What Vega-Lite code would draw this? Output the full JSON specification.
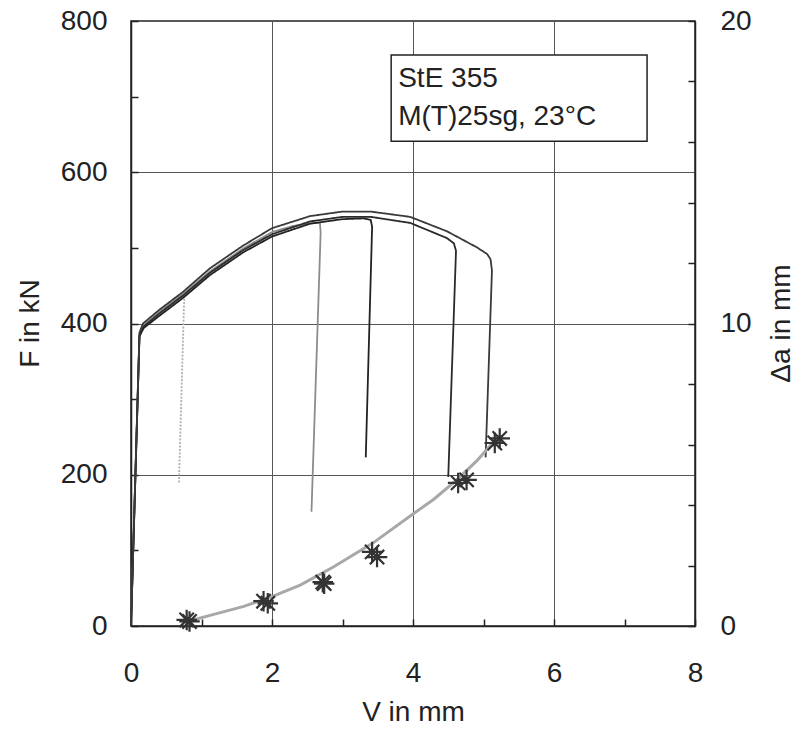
{
  "$schema": "https://vega.github.io/schema/vega-lite/v6.json",
  "width": 564,
  "height": 605,
  "autosize": {"type": "none"},
  "padding": {"left": 131, "top": 21, "right": 99, "bottom": 104},
  "background": "white",
  "config": {
    "view": {"stroke": "#222", "strokeWidth": 1.5},
    "axis": {
      "labelFont": "Liberation Sans",
      "labelFontSize": 28,
      "labelColor": "#222",
      "labelFlush": false,
      "labelOverlap": false,
      "titleFont": "Liberation Sans",
      "titleFontSize": 28,
      "titleFontWeight": "normal",
      "titleColor": "#222",
      "domainColor": "#222",
      "domainWidth": 1.5,
      "tickColor": "#222",
      "tickWidth": 1.5,
      "tickSize": -7,
      "gridColor": "#555",
      "gridWidth": 1
    }
  },
  "datasets": {
    "curves": [
      {"s": "A", "o": 1, "V": 0, "F": 0}, {"s": "A", "o": 2, "V": 0.05, "F": 160}, {"s": "A", "o": 3, "V": 0.12, "F": 385}, {"s": "A", "o": 4, "V": 0.17, "F": 397}, {"s": "A", "o": 5, "V": 0.4, "F": 416}, {"s": "A", "o": 6, "V": 0.6, "F": 430}, {"s": "A", "o": 7, "V": 0.76, "F": 441}, {"s": "A", "o": 8, "V": 0.75, "F": 420}, {"s": "A", "o": 9, "V": 0.68, "F": 189},
      {"s": "B", "o": 1, "V": 0, "F": 0}, {"s": "B", "o": 2, "V": 0.05, "F": 160}, {"s": "B", "o": 3, "V": 0.12, "F": 385}, {"s": "B", "o": 4, "V": 0.17, "F": 397}, {"s": "B", "o": 5, "V": 0.4, "F": 415}, {"s": "B", "o": 6, "V": 0.74, "F": 439}, {"s": "B", "o": 7, "V": 1.12, "F": 469}, {"s": "B", "o": 8, "V": 1.59, "F": 499}, {"s": "B", "o": 9, "V": 2.0, "F": 521}, {"s": "B", "o": 10, "V": 2.3, "F": 529}, {"s": "B", "o": 11, "V": 2.6, "F": 533}, {"s": "B", "o": 12, "V": 2.68, "F": 533}, {"s": "B", "o": 13, "V": 2.69, "F": 520}, {"s": "B", "o": 14, "V": 2.56, "F": 151},
      {"s": "C", "o": 1, "V": 0, "F": 0}, {"s": "C", "o": 2, "V": 0.05, "F": 158}, {"s": "C", "o": 3, "V": 0.12, "F": 383}, {"s": "C", "o": 4, "V": 0.18, "F": 394}, {"s": "C", "o": 5, "V": 0.4, "F": 410}, {"s": "C", "o": 6, "V": 0.74, "F": 434}, {"s": "C", "o": 7, "V": 1.12, "F": 464}, {"s": "C", "o": 8, "V": 1.59, "F": 494}, {"s": "C", "o": 9, "V": 2.0, "F": 515}, {"s": "C", "o": 10, "V": 2.54, "F": 532}, {"s": "C", "o": 11, "V": 3.0, "F": 538}, {"s": "C", "o": 12, "V": 3.3, "F": 539}, {"s": "C", "o": 13, "V": 3.4, "F": 537}, {"s": "C", "o": 14, "V": 3.42, "F": 528}, {"s": "C", "o": 15, "V": 3.33, "F": 223},
      {"s": "D", "o": 1, "V": 0, "F": 0}, {"s": "D", "o": 2, "V": 0.05, "F": 159}, {"s": "D", "o": 3, "V": 0.12, "F": 384}, {"s": "D", "o": 4, "V": 0.18, "F": 396}, {"s": "D", "o": 5, "V": 0.4, "F": 413}, {"s": "D", "o": 6, "V": 0.74, "F": 437}, {"s": "D", "o": 7, "V": 1.12, "F": 467}, {"s": "D", "o": 8, "V": 1.59, "F": 497}, {"s": "D", "o": 9, "V": 2.0, "F": 518}, {"s": "D", "o": 10, "V": 2.54, "F": 535}, {"s": "D", "o": 11, "V": 3.0, "F": 541}, {"s": "D", "o": 12, "V": 3.4, "F": 541}, {"s": "D", "o": 13, "V": 3.96, "F": 533}, {"s": "D", "o": 14, "V": 4.48, "F": 513}, {"s": "D", "o": 15, "V": 4.58, "F": 506}, {"s": "D", "o": 16, "V": 4.61, "F": 496}, {"s": "D", "o": 17, "V": 4.5, "F": 197},
      {"s": "E", "o": 1, "V": 0, "F": 0}, {"s": "E", "o": 2, "V": 0.05, "F": 162}, {"s": "E", "o": 3, "V": 0.12, "F": 388}, {"s": "E", "o": 4, "V": 0.17, "F": 400}, {"s": "E", "o": 5, "V": 0.4, "F": 418}, {"s": "E", "o": 6, "V": 0.74, "F": 442}, {"s": "E", "o": 7, "V": 1.12, "F": 473}, {"s": "E", "o": 8, "V": 1.59, "F": 503}, {"s": "E", "o": 9, "V": 2.0, "F": 526}, {"s": "E", "o": 10, "V": 2.54, "F": 542}, {"s": "E", "o": 11, "V": 3.0, "F": 548}, {"s": "E", "o": 12, "V": 3.4, "F": 548}, {"s": "E", "o": 13, "V": 3.96, "F": 541}, {"s": "E", "o": 14, "V": 4.48, "F": 522}, {"s": "E", "o": 15, "V": 4.9, "F": 501}, {"s": "E", "o": 16, "V": 5.05, "F": 492}, {"s": "E", "o": 17, "V": 5.1, "F": 485}, {"s": "E", "o": 18, "V": 5.12, "F": 470}, {"s": "E", "o": 19, "V": 5.03, "F": 223}
    ],
    "growth": [
      {"V": 0.88, "da": 0.2}, {"V": 1.2, "da": 0.4}, {"V": 1.6, "da": 0.65}, {"V": 2.0, "da": 0.97}, {"V": 2.4, "da": 1.35}, {"V": 2.87, "da": 1.95}, {"V": 3.43, "da": 2.74}, {"V": 4.0, "da": 3.7}, {"V": 4.3, "da": 4.2}, {"V": 4.62, "da": 4.83}, {"V": 4.9, "da": 5.45}, {"V": 5.13, "da": 6.05}, {"V": 5.2, "da": 6.25}
    ],
    "stars": [
      {"V": 0.79, "da": 0.2}, {"V": 0.83, "da": 0.15}, {"V": 1.88, "da": 0.82}, {"V": 1.94, "da": 0.75}, {"V": 2.72, "da": 1.45}, {"V": 2.74, "da": 1.4}, {"V": 3.42, "da": 2.45}, {"V": 3.49, "da": 2.28}, {"V": 4.64, "da": 4.73}, {"V": 4.76, "da": 4.83}, {"V": 5.16, "da": 6.05}, {"V": 5.23, "da": 6.2}
    ],
    "box": [{"V": 3.69, "V2": 7.32, "F": 755, "F2": 641}],
    "labels": [{"V": 3.79, "F": 723, "t": "StE 355"}, {"V": 3.79, "F": 673, "t": "M(T)25sg, 23°C"}]
  },
  "layer": [
    {
      "layer": [
        {
          "data": {"name": "curves"},
          "mark": {"type": "line", "strokeWidth": 1.8, "interpolate": "linear"},
          "encoding": {
            "x": {
              "field": "V", "type": "quantitative",
              "scale": {"domain": [0, 8], "nice": false},
              "axis": {
                "title": "V in mm",
                "values": [0, 0.5, 1, 1.5, 2, 2.5, 3, 3.5, 4, 4.5, 5, 5.5, 6, 6.5, 7, 7.5, 8],
                "labelExpr": "datum.value % 2 === 0 ? '' + datum.value : ''",
                "labelPadding": 40,
                "grid": true,
                "gridOpacity": {"condition": {"test": "datum.value % 2 === 0 && datum.value > 0 && datum.value < 8", "value": 1}, "value": 0},
                "titleX": 282, "titleY": 86, "titleBaseline": "middle"
              }
            },
            "y": {
              "field": "F", "type": "quantitative",
              "scale": {"domain": [0, 800], "nice": false},
              "axis": {
                "title": "F in kN",
                "values": [0, 50, 100, 150, 200, 250, 300, 350, 400, 450, 500, 550, 600, 650, 700, 750, 800],
                "labelExpr": "datum.value % 200 === 0 ? '' + datum.value : ''",
                "labelPadding": 31,
                "grid": true,
                "gridOpacity": {"condition": {"test": "datum.value % 200 === 0 && datum.value > 0 && datum.value < 800", "value": 1}, "value": 0},
                "titleX": -101, "titleY": 302, "titleBaseline": "middle", "titleAngle": 270
              }
            },
            "detail": {"field": "s"},
            "order": {"field": "o", "type": "quantitative"},
            "color": {
              "field": "s", "type": "nominal", "legend": null,
              "scale": {"domain": ["A", "B", "C", "D", "E"], "range": ["#b0b0b0", "#8c8c8c", "#222222", "#2a2a2a", "#3a3a3a"]}
            },
            "strokeDash": {
              "field": "s", "type": "nominal", "legend": null,
              "scale": {"domain": ["A", "B", "C", "D", "E"], "range": [[2, 1.5], [1, 0], [1, 0], [1, 0], [1, 0]]}
            }
          }
        },
        {
          "data": {"name": "box"},
          "mark": {"type": "rect", "fill": "white", "stroke": "#222", "strokeWidth": 1.5},
          "encoding": {
            "x": {"field": "V", "type": "quantitative"},
            "x2": {"field": "V2"},
            "y": {"field": "F", "type": "quantitative"},
            "y2": {"field": "F2"}
          }
        },
        {
          "data": {"name": "labels"},
          "mark": {"type": "text", "align": "left", "baseline": "middle", "font": "Liberation Sans", "fontSize": 28, "color": "#222"},
          "encoding": {
            "x": {"field": "V", "type": "quantitative"},
            "y": {"field": "F", "type": "quantitative"},
            "text": {"field": "t"}
          }
        }
      ]
    },
    {
      "layer": [
        {
          "data": {"name": "growth"},
          "mark": {"type": "line", "stroke": "#a8a8a8", "strokeWidth": 3},
          "encoding": {
            "x": {"field": "V", "type": "quantitative"},
            "y": {
              "field": "da", "type": "quantitative",
              "scale": {"domain": [0, 20], "nice": false},
              "axis": {
                "orient": "right",
                "title": "Δa  in mm",
                "values": [0, 1, 2, 3, 4, 5, 6, 7, 8, 9, 10, 11, 12, 13, 14, 15, 16, 17, 18, 19, 20],
                "labelExpr": "datum.value % 5 === 0 ? '' + datum.value : ''",
                "labelPadding": 32,
                "grid": false,
                "titleX": 86, "titleY": 302, "titleBaseline": "middle", "titleAngle": 270
              }
            }
          }
        },
        {
          "data": {"name": "stars"},
          "mark": {"type": "point", "shape": "M-1,0L1,0M0,-1L0,1M-0.7,-0.7L0.7,0.7M-0.7,0.7L0.7,-0.7", "filled": false, "stroke": "#333", "strokeWidth": 2.2, "size": 420, "opacity": 1},
          "encoding": {
            "x": {"field": "V", "type": "quantitative"},
            "y": {"field": "da", "type": "quantitative"}
          }
        }
      ]
    }
  ],
  "resolve": {"scale": {"y": "independent"}}
}
